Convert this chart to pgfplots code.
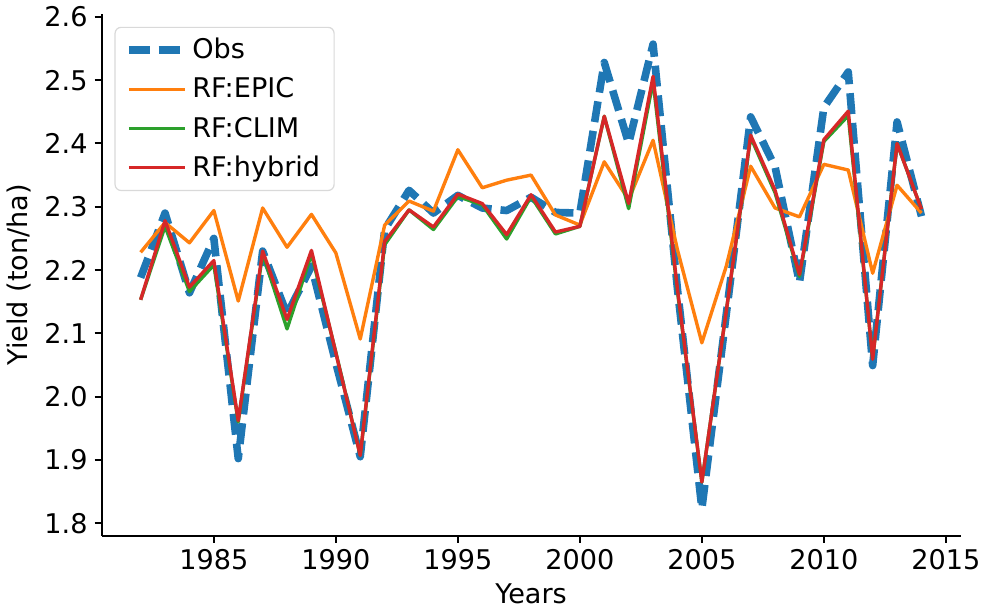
\documentclass[border=0pt]{standalone}
\usepackage{fontspec}
\setmainfont{DejaVu Sans}
\usepackage{pgfplots}
\pgfplotsset{compat=1.18}
\definecolor{tabblue}{HTML}{1F77B4}
\definecolor{taborange}{HTML}{FF7F0E}
\definecolor{tabgreen}{HTML}{2CA02C}
\definecolor{tabred}{HTML}{D62728}

% year, obs, RF:EPIC, RF:CLIM, RF:hybrid
\usepackage{pgfplotstable}
\pgfplotstableread{
year obs epic clim hybrid
1982 2.188 2.228 2.153 2.153
1983 2.290 2.275 2.269 2.278
1984 2.164 2.243 2.166 2.173
1985 2.250 2.294 2.208 2.215
1986 1.902 2.151 1.960 1.962
1987 2.230 2.298 2.226 2.230
1988 2.130 2.236 2.107 2.122
1989 2.206 2.288 2.225 2.231
1990 2.053 2.227 2.070 2.069
1991 1.905 2.091 1.907 1.907
1992 2.264 2.271 2.240 2.245
1993 2.326 2.309 2.295 2.295
1994 2.290 2.293 2.264 2.268
1995 2.318 2.390 2.316 2.320
1996 2.298 2.330 2.303 2.305
1997 2.294 2.342 2.249 2.256
1998 2.315 2.350 2.316 2.319
1999 2.291 2.287 2.257 2.260
2000 2.290 2.271 2.269 2.269
2001 2.528 2.371 2.443 2.443
2002 2.400 2.311 2.297 2.305
2003 2.557 2.405 2.498 2.506
2004 2.170 2.232 2.166 2.170
2005 1.823 2.085 1.865 1.865
2006 2.130 2.206 2.135 2.135
2007 2.442 2.364 2.410 2.413
2008 2.363 2.298 2.322 2.326
2009 2.180 2.284 2.190 2.193
2010 2.457 2.367 2.403 2.406
2011 2.513 2.358 2.444 2.451
2012 2.049 2.195 2.060 2.059
2013 2.434 2.334 2.400 2.400
2014 2.285 2.290 2.296 2.296
}\yields

\begin{document}
\begin{tikzpicture}
\begin{axis}[
    scale only axis,
    width=431pt, height=262pt,
    xmin=1980.4, xmax=2015.6,
    ymin=1.78, ymax=2.605,
    axis x line*=bottom, axis y line*=left,
    axis line style={-, line width=1pt},
    tick align=outside,
    major tick length=3.5pt,
    tick style={black, line width=1pt},
    xtick={1985,1990,...,2015},
    ytick={1.8,1.9,...,2.6},
    /pgf/number format/assume math mode=true,
    x tick label style={/pgf/number format/.cd, set thousands separator={}, fixed},
    y tick label style={/pgf/number format/.cd, fixed, fixed zerofill, precision=1},
    tick label style={font=\fontsize{13.6}{16}\selectfont},
    label style={font=\fontsize{13.6}{16}\selectfont},
    xlabel={Years}, ylabel={Yield (ton/ha)},
    legend cell align=left,
    legend style={
        at={(axis description cs:0.015,0.975)}, anchor=north west,
        draw=black!15, rounded corners=3pt, line width=0.6pt,
        font=\fontsize{13.6}{16}\selectfont,
        inner xsep=5pt, inner ysep=3.5pt,
        row sep=4pt,
    },
    legend image code/.code={\draw[#1] (0pt,0pt) -- (28pt,0pt);},
]
\addplot[tabblue, line width=3.8pt, dash pattern=on 10.5pt off 4.5pt, line join=round] table[x=year, y=obs] {\yields};
\addlegendentry{Obs}
\addplot[taborange, line width=1.7pt, line join=round] table[x=year, y=epic] {\yields};
\addlegendentry{RF:EPIC}
\addplot[tabgreen, line width=1.7pt, line join=round] table[x=year, y=clim] {\yields};
\addlegendentry{RF:CLIM}
\addplot[tabred, line width=1.7pt, line join=round] table[x=year, y=hybrid] {\yields};
\addlegendentry{RF:hybrid}
\end{axis}
\end{tikzpicture}
\end{document}
